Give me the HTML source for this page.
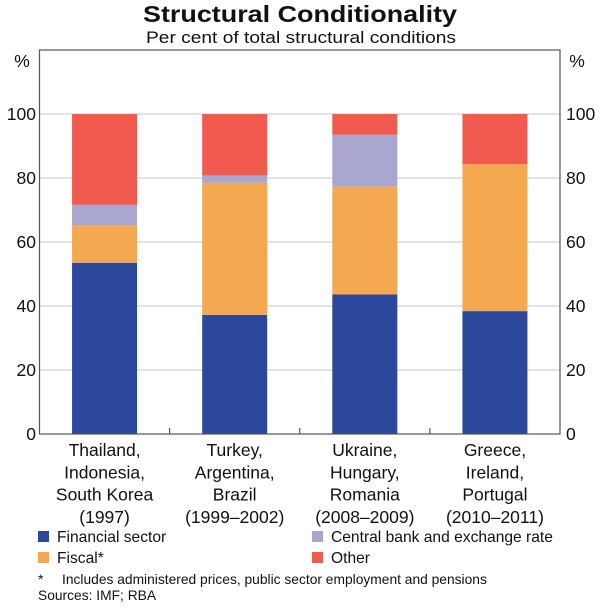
<!DOCTYPE html>
<html><head><meta charset="utf-8"><style>
body{margin:0;background:#fff;}
svg text{font-family:"Liberation Sans",sans-serif;fill:#111;}
</style></head><body>
<svg id="chart" width="600" height="606" viewBox="0 0 600 606" xmlns="http://www.w3.org/2000/svg">
<text x="143" y="22" font-size="23" font-weight="bold" textLength="314" lengthAdjust="spacingAndGlyphs">Structural Conditionality</text>
<text x="146" y="43" font-size="17" textLength="310" lengthAdjust="spacingAndGlyphs">Per cent of total structural conditions</text>
<g id="grid"></g>
<g id="bars"></g>
<rect x="39.5" y="50" width="520.5" height="384" fill="none" stroke="#555" stroke-width="1.2"/>
<g id="axes"></g>
<text x="22" y="67" text-anchor="middle" font-size="17.5">%</text>
<text x="577" y="67" text-anchor="middle" font-size="17.5">%</text>
<g font-size="15.6">
<rect x="38" y="531" width="11" height="11" fill="#2c489c"/>
<text x="57" y="542">Financial sector</text>
<rect x="312" y="531" width="11" height="11" fill="#a9a6cf"/>
<text x="331" y="542">Central bank and exchange rate</text>
<rect x="38" y="552" width="11" height="11" fill="#f4a951"/>
<text x="57" y="563">Fiscal*</text>
<rect x="312" y="552" width="11" height="11" fill="#f15a4f"/>
<text x="331" y="563">Other</text>
</g>
<text x="38" y="584" font-size="14">*</text>
<text x="62" y="584" font-size="13.8">Includes administered prices, public sector employment and pensions</text>
<text x="38" y="600" font-size="13.8">Sources: IMF; RBA</text>
</svg>
<script>
const categories=[["Thailand,","Indonesia,","South Korea","(1997)"],["Turkey,","Argentina,","Brazil","(1999–2002)"],["Ukraine,","Hungary,","Romania","(2008–2009)"],["Greece,","Ireland,","Portugal","(2010–2011)"]];
const financial=[53.5,37.2,43.6,38.4];
const fiscal=[11.7,41.3,33.7,45.9];
const centralBank=[6.4,2.3,16.2,0];
const other=[28.4,19.2,6.5,15.7];
const yTicks=[0,20,40,60,80,100];
const NS="http://www.w3.org/2000/svg";
const L=39.5,R=560,T=50,B=434;
const y=v=>B-v*3.2;
const band=(R-L)/categories.length;
const x=i=>L+band*i+band/2;
function mk(tag,attrs,parent){const e=document.createElementNS(NS,tag);for(const k in attrs)e.setAttribute(k,attrs[k]);parent.appendChild(e);return e;}
const grid=document.getElementById('grid'),bars=document.getElementById('bars'),axes=document.getElementById('axes');
yTicks.forEach(t=>{
 if(t>0){const g=mk('line',{x1:L,x2:R,y1:y(t),y2:y(t),stroke:'#c8c8c8','stroke-width':1},grid);
 
 }
 const a=mk('text',{x:36,y:y(t)+6,'text-anchor':'end','font-size':17.5},axes);a.textContent=t;
 
 
 const b=mk('text',{x:566,y:y(t)+6,'font-size':17.5},axes);b.textContent=t;
 
 
});
const series=[[financial,'#2c489c','financial'],[fiscal,'#f4a951','fiscal'],[centralBank,'#a9a6cf','central-bank'],[other,'#f15a4f','other']];
const bw=65;
categories.forEach((c,i)=>{
 let cum=0;
 series.forEach(([arr,col,nm])=>{
  const v=arr[i];
  if(v>0){const r=mk('rect',{x:x(i)-bw/2,y:y(cum+v),width:bw,height:v*3.2,fill:col},bars);
  
  }
  cum+=v;
 });
 c.forEach((ln,j)=>{const t=mk('text',{x:x(i),y:456+j*22.3,'text-anchor':'middle','font-size':17.5},axes);t.textContent=ln;
 
 });
 if(i>0){const tk=mk('line',{x1:L+band*i,x2:L+band*i,y1:B,y2:B-6,stroke:'#555','stroke-width':1.2},axes);
 
 }
});
</script>
</body></html>
